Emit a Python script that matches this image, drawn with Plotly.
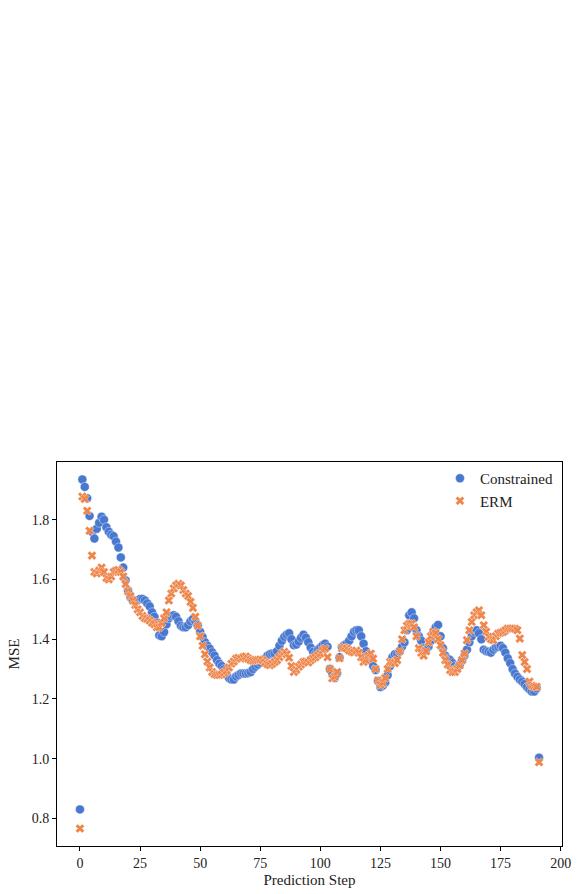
import plotly.graph_objects as go

# Per-step mean squared error for the two training schemes
steps = list(range(192))

constrained_mse = [
    0.83, 1.935, 1.91, 1.872, 1.813, 1.76, 1.737, 1.77, 1.79, 1.81,
    1.80, 1.775, 1.76, 1.75, 1.745, 1.727, 1.707, 1.674, 1.64, 1.597,
    1.563, 1.54, 1.53, 1.53, 1.53, 1.535, 1.535, 1.53, 1.52, 1.51,
    1.49, 1.475, 1.455, 1.413, 1.41, 1.424, 1.45, 1.47, 1.478, 1.48,
    1.475, 1.46, 1.445, 1.44, 1.44, 1.447, 1.46, 1.468, 1.46, 1.447,
    1.425, 1.408, 1.39, 1.378, 1.368, 1.356, 1.345, 1.33, 1.318, 1.31,
    1.30, 1.285, 1.27, 1.265, 1.265, 1.275, 1.28, 1.285, 1.285, 1.285,
    1.287, 1.29, 1.30, 1.308, 1.315, 1.322, 1.33, 1.335, 1.345, 1.35,
    1.352, 1.352, 1.36, 1.378, 1.395, 1.408, 1.415, 1.42, 1.40, 1.38,
    1.382, 1.392, 1.405, 1.415, 1.405, 1.39, 1.372, 1.358, 1.35, 1.365,
    1.372, 1.38, 1.385, 1.375, 1.30, 1.285, 1.27, 1.285, 1.34, 1.374,
    1.38, 1.385, 1.395, 1.41, 1.425, 1.43, 1.43, 1.41, 1.385, 1.36,
    1.34, 1.33, 1.31, 1.297, 1.26, 1.24, 1.245, 1.255, 1.28, 1.31,
    1.34, 1.35, 1.35, 1.36, 1.375, 1.39, 1.43, 1.48, 1.49, 1.47,
    1.43, 1.41, 1.395, 1.37, 1.365, 1.375, 1.395, 1.42, 1.44, 1.448,
    1.41, 1.37, 1.345, 1.335, 1.33, 1.32, 1.31, 1.305, 1.315, 1.33,
    1.345, 1.365, 1.39, 1.41, 1.425, 1.43, 1.42, 1.40, 1.365, 1.36,
    1.358, 1.355, 1.365, 1.372, 1.375, 1.378, 1.37, 1.355, 1.336, 1.32,
    1.30, 1.285, 1.274, 1.265, 1.258, 1.25, 1.24, 1.232, 1.225, 1.225,
    1.235, 1.003,
]

erm_mse = [
    0.766, 1.878, 1.87, 1.83, 1.763, 1.68, 1.625, 1.62, 1.63, 1.64,
    1.625, 1.605, 1.60, 1.61, 1.625, 1.63, 1.632, 1.625, 1.61, 1.585,
    1.56, 1.545, 1.53, 1.515, 1.50, 1.49, 1.478, 1.47, 1.468, 1.463,
    1.455, 1.45, 1.44, 1.44, 1.455, 1.47, 1.49, 1.53, 1.553, 1.57,
    1.58, 1.586, 1.58, 1.565, 1.553, 1.545, 1.525, 1.505, 1.475, 1.445,
    1.41, 1.378, 1.35, 1.325, 1.305, 1.29, 1.283, 1.28, 1.28, 1.282,
    1.288, 1.295, 1.305, 1.318, 1.325, 1.335, 1.338, 1.335, 1.34, 1.342,
    1.335, 1.33, 1.328, 1.33, 1.33, 1.332, 1.33, 1.322, 1.316, 1.313,
    1.318, 1.324, 1.33, 1.34, 1.35, 1.358, 1.35, 1.338, 1.31, 1.29,
    1.298, 1.308, 1.315, 1.324, 1.325, 1.322, 1.33, 1.336, 1.34, 1.347,
    1.352, 1.363, 1.369, 1.34, 1.30, 1.269, 1.275, 1.29, 1.336, 1.37,
    1.372, 1.369, 1.362, 1.358, 1.356, 1.362, 1.355, 1.34, 1.324, 1.33,
    1.345, 1.352, 1.335, 1.30, 1.262, 1.247, 1.255, 1.27, 1.30, 1.324,
    1.322, 1.32, 1.33, 1.36, 1.40, 1.43, 1.445, 1.452, 1.452, 1.44,
    1.41, 1.37, 1.355, 1.345, 1.36, 1.39, 1.41, 1.425, 1.42, 1.40,
    1.38, 1.355, 1.33, 1.315, 1.297, 1.29, 1.29, 1.30, 1.313, 1.33,
    1.352, 1.397, 1.43, 1.458, 1.48, 1.49, 1.497, 1.48, 1.447, 1.425,
    1.408, 1.40, 1.397, 1.41, 1.419, 1.422, 1.424, 1.43, 1.436, 1.436,
    1.436, 1.435, 1.43, 1.402, 1.347, 1.324, 1.30, 1.258, 1.245, 1.241,
    1.241, 0.988,
]

x_ticks = [0, 25, 50, 75, 100, 125, 150, 175, 200]
y_ticks = [0.8, 1.0, 1.2, 1.4, 1.6, 1.8]

BLUE = "#4878d0"
ORANGE = "#ee854a"
FONT = "Liberation Serif"
TEXT = "#222"

fig = go.Figure()
fig.add_trace(go.Scatter(
    x=steps, y=constrained_mse, mode="markers", name="Constrained",
    marker=dict(symbol="circle", size=9, color=BLUE,
                line=dict(color="white", width=0.4)),
))
fig.add_trace(go.Scatter(
    x=steps, y=erm_mse, mode="markers", name="ERM",
    marker=dict(symbol="x", size=8, color=ORANGE,
                line=dict(color="white", width=0.4)),
))

axis_common = dict(
    showgrid=False, zeroline=False, showline=True, linecolor="black",
    linewidth=1, mirror=True, ticks="outside", ticklen=4, tickwidth=1,
    tickcolor="black", tickfont=dict(family=FONT, size=14, color=TEXT),
)

fig.update_layout(
    width=580, height=894,
    margin=dict(l=57, r=9, t=462, b=46),
    paper_bgcolor="white", plot_bgcolor="white",
    font=dict(family=FONT, size=14, color=TEXT),
    showlegend=True,
    legend=dict(
        x=0.992, y=1.0, xanchor="right", yanchor="top",
        bgcolor="rgba(255,255,255,0)", borderwidth=0,
        font=dict(family=FONT, size=15, color=TEXT),
        itemwidth=30, tracegroupgap=0,
    ),
    xaxis=dict(
        range=[-9.55, 200.55], tickmode="array", tickvals=x_ticks,
        ticktext=[str(t) for t in x_ticks],
        title=dict(text="Prediction Step", font=dict(family=FONT, size=15), standoff=4),
        **axis_common,
    ),
    yaxis=dict(
        range=[0.7075, 1.9935], tickmode="array", tickvals=y_ticks,
        ticktext=[f"{t:.1f}" for t in y_ticks],
        title=dict(text="MSE", font=dict(family=FONT, size=15), standoff=8),
        **axis_common,
    ),
)

fig.write_html("out.html")
